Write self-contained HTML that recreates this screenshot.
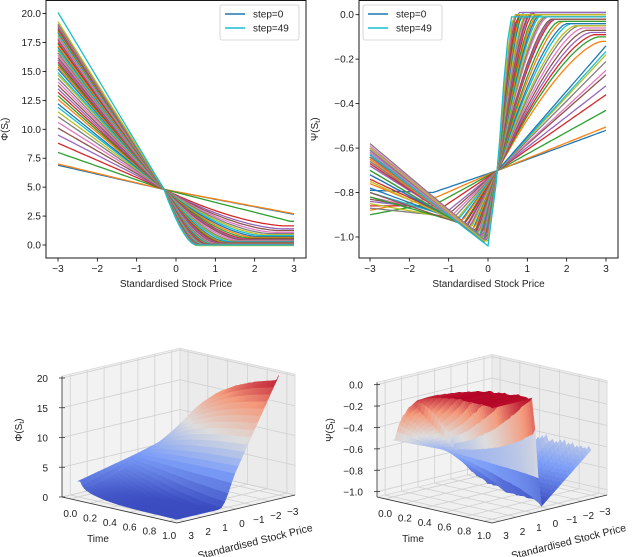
<!DOCTYPE html>
<html><head><meta charset="utf-8">
<style>
body{margin:0;background:#fff;}
svg{display:block;font-family:"Liberation Sans","DejaVu Sans",sans-serif;}
</style></head>
<body>
<svg id="fig" width="640" height="557" viewBox="0 0 640 557" xmlns="http://www.w3.org/2000/svg">
<rect width="640" height="557" fill="#fff"/>
<g id="g2d"></g>
<g id="g3d"></g>
</svg>
<script>
// ---------- data ----------
const xTicks = [-3,-2,-1,0,1,2,3];
const phiYTicks = [0,2.5,5,7.5,10,12.5,15,17.5,20];
const psiYTicks = [0,-0.2,-0.4,-0.6,-0.8,-1.0];
const phiLeft = [6.9,7.0,8.0,8.8,9.5,10.1,10.6,11.1,11.5,11.9,12.2,12.6,12.9,13.2,13.5,13.8,14.1,14.4,14.7,14.9,15.2,15.4,15.6,15.8,16.0,16.2,16.4,16.6,16.8,16.9,17.1,17.2,17.4,17.5,17.7,17.8,17.9,18.1,18.2,18.3,18.4,18.5,18.6,18.7,18.8,18.9,19.0,19.1,19.3,20.1];
const phiRight = [2.65,2.7,2.05,1.65,1.4,1.25,1.1,0.98,0.88,0.8,0.72,0.65,0.58,0.52,0.47,0.42,0.38,0.34,0.3,0.27,0.24,0.21,0.19,0.17,0.15,0.13,0.12,0.1,0.09,0.08,0.07,0.06,0.05,0.05,0.04,0.04,0.03,0.03,0.02,0.02,0.02,0.01,0.01,0.01,0,0,0,0,-0.05,0];
const phiKink = [3,3,2.9,2.8,2.7,2.6,2.5,2.4,2.3,2.2,2.1,2.0,1.9,1.8,1.75,1.7,1.6,1.5,1.45,1.4,1.3,1.25,1.2,1.15,1.1,1.05,1.0,0.95,0.9,0.88,0.85,0.82,0.8,0.78,0.75,0.72,0.7,0.68,0.66,0.64,0.62,0.6,0.58,0.57,0.56,0.55,0.54,0.53,0.52,0.5];
const phiCross = [-0.3, 4.8];
const psiLeft = [-0.79,-0.88,-0.90,-0.86,-0.84,-0.83,-0.82,-0.87,-0.85,-0.80,-0.78,-0.76,-0.82,-0.74,-0.72,-0.80,-0.70,-0.68,-0.75,-0.66,-0.72,-0.64,-0.70,-0.62,-0.68,-0.60,-0.66,-0.58,-0.64,-0.63,-0.61,-0.65,-0.62,-0.67,-0.60,-0.64,-0.59,-0.66,-0.61,-0.63,-0.60,-0.65,-0.62,-0.64,-0.61,-0.63,-0.62,-0.64,-0.60,-0.63];
const psiMinX = [-1.4,-1.3,-1.2,-1.1,-1.0,-0.95,-0.9,-0.85,-0.8,-0.75,-0.7,-0.66,-0.62,-0.58,-0.55,-0.52,-0.49,-0.46,-0.43,-0.4,-0.38,-0.36,-0.34,-0.32,-0.3,-0.28,-0.26,-0.24,-0.22,-0.2,-0.19,-0.18,-0.17,-0.16,-0.15,-0.14,-0.13,-0.12,-0.11,-0.1,-0.09,-0.08,-0.07,-0.06,-0.05,-0.04,-0.03,-0.02,-0.01,0.0];
const psiMinY = [-0.80,-0.82,-0.84,-0.86,-0.88,-0.89,-0.90,-0.91,-0.92,-0.92,-0.93,-0.93,-0.94,-0.94,-0.95,-0.95,-0.96,-0.96,-0.96,-0.97,-0.97,-0.97,-0.98,-0.98,-0.98,-0.98,-0.99,-0.99,-0.99,-0.99,-1.0,-1.0,-1.0,-1.0,-1.0,-1.01,-1.01,-1.01,-1.01,-1.01,-1.02,-1.02,-1.02,-1.02,-1.02,-1.03,-1.03,-1.03,-1.03,-1.04];
const psiSatX = [3,3,3,3,3,3,3,3,3,3,3,2.9,2.8,2.7,2.6,2.5,2.4,2.3,2.2,2.1,2.0,1.9,1.8,1.7,1.65,1.6,1.5,1.45,1.4,1.35,1.3,1.25,1.2,1.15,1.1,1.05,1.0,0.97,0.94,0.9,0.87,0.84,0.81,0.78,0.75,0.72,0.7,0.68,0.66,0.6];
const psiRight = [-0.52,-0.505,-0.43,-0.36,-0.32,-0.27,-0.25,-0.21,-0.18,-0.165,-0.14,-0.12,-0.10,-0.09,-0.08,-0.07,-0.06,-0.05,-0.05,-0.04,-0.04,-0.03,-0.03,-0.02,-0.02,-0.02,-0.01,-0.01,-0.01,0,0,0,0,0.01,0.01,0,0,0,0,0.01,0,0,0,0,0.01,0,0,0,0,-0.01];
const psiCross = [0.25, -0.7];
const timeTicks = [0,0.2,0.4,0.6,0.8,1.0];
const phiZTicks = [0,5,10,15,20];
const psiZTicks = [0,-0.2,-0.4,-0.6,-0.8,-1.0];

const NS = "http://www.w3.org/2000/svg";
const tab10 = ["#1f77b4","#ff7f0e","#2ca02c","#d62728","#9467bd","#8c564b","#e377c2","#7f7f7f","#bcbd22","#17becf"];
function mk(tag, attrs, parent){const e=document.createElementNS(NS,tag);for(const k in attrs)e.setAttribute(k,attrs[k]);parent.appendChild(e);return e;}
function txt(parent,x,y,s,extra){const e=mk('text',Object.assign({x:x,y:y,'font-size':10,fill:'#222'},extra||{}),parent);e.textContent=s;return e;}
function fmt(v,d){let s=v.toFixed(d);if(v<0||s.startsWith('-'))s='\u2212'+s.replace('-','');if(/^\u22120(\.0+)?$/.test(s))s=s.slice(1);return s;}

function phiAt(k,x){
  const L=phiLeft[k],R=phiRight[k],K=phiKink[k],cx=phiCross[0],cy=phiCross[1];
  if(x<=cx) return L+(cy-L)*(x+3)/(cx+3);
  const u=Math.min(1,(x-cx)/(K-cx)); const p=K>=2.9?1:1.6;
  return R+(cy-R)*Math.pow(1-u,p);
}
function psiAt(k,x){
  const L=psiLeft[k],mx=psiMinX[k],my=psiMinY[k],cx=psiCross[0],cy=psiCross[1],S=psiSatX[k],R=psiRight[k];
  if(x<=mx) return L+(my-L)*(x+3)/(mx+3);
  if(x<=cx) return my+(cy-my)*(x-mx)/(cx-mx);
  const u=Math.min(1,(x-cx)/(S-cx)); const p=S>=2.95?1:1.5;
  return R+(cy-R)*Math.pow(1-u,p);
}
const xs=[];for(let i=0;i<=60;i++)xs.push(-3+i*0.1);

// ---------- 2D charts ----------
const g2=document.getElementById('g2d');
function chart2d(cfg){
  const g=mk('g',{},g2);
  
  
  const sx=x=>cfg.x0+(x+3)/6*cfg.xw;
  const sy=y=>cfg.yRef+(cfg.yRefV-y)*cfg.ypu;
  const clip='clip'+cfg.name;
  const cp=mk('clipPath',{id:clip},g);mk('rect',{x:cfg.L,y:cfg.T,width:cfg.R-cfg.L,height:cfg.B-cfg.T},cp);
  const lines=mk('g',{'clip-path':'url(#'+clip+')'},g);
  for(let k=0;k<50;k++){
    const d=xs.map((x,i)=>(i?'L':'M')+sx(x).toFixed(1)+' '+sy(cfg.f(k,x)).toFixed(1)).join('');
    const p=mk('path',{d:d,fill:'none',stroke:tab10[k%10],'stroke-width':1.3},lines);
    
    
  }
  const fr=mk('rect',{x:cfg.L,y:cfg.T,width:cfg.R-cfg.L,height:cfg.B-cfg.T,fill:'none',stroke:'#000','stroke-width':0.9},g);
  
  const xa=mk('g',{},g);
  xTicks.forEach(v=>{mk('line',{x1:sx(v),x2:sx(v),y1:cfg.B,y2:cfg.B+3.5,stroke:'#000','stroke-width':0.8},xa);
    txt(xa,sx(v),cfg.B+14,fmt(v,0),{'text-anchor':'middle'});});
  const xt=txt(g,(cfg.L+cfg.R)/2,cfg.B+29,'Standardised Stock Price',{'text-anchor':'middle'});
  
  const ya=mk('g',{},g);
  cfg.yt.forEach(v=>{mk('line',{x1:cfg.L-3.5,x2:cfg.L,y1:sy(v),y2:sy(v),stroke:'#000','stroke-width':0.8},ya);
    txt(ya,cfg.L-5,sy(v)+3.5,fmt(v,cfg.dec),{'text-anchor':'end'});});
  const yl=txt(g,0,0,'',{'text-anchor':'middle',transform:'translate('+cfg.ylx+','+((cfg.T+cfg.B)/2)+') rotate(-90)'});
  yl.innerHTML=cfg.ylab+'(S<tspan font-size="7" dy="2">t</tspan><tspan dy="-2">)</tspan>';
  
  const lg=mk('g',{},g);
  mk('rect',{x:cfg.lgx,y:5,width:79,height:35,rx:2,fill:'#fff',stroke:'#ccc','stroke-width':0.8},lg);
  [['step=0',tab10[0]],['step=49',tab10[9]]].forEach((e,i)=>{
    const en=mk('g',{},lg);
    mk('line',{x1:cfg.lgx+5,x2:cfg.lgx+25,y1:14+i*14,y2:14+i*14,stroke:e[1],'stroke-width':1.5},en);
    txt(en,cfg.lgx+33,17.5+i*14,e[0]);
  });
}
chart2d({name:'phi-chart',L:46,R:306,T:0.5,B:258,x0:58,xw:236,yRef:245,yRefV:0,ypu:11.57,f:phiAt,yt:phiYTicks,dec:1,ylab:'\u03A6',ylx:8,lgx:220});
chart2d({name:'psi-chart',L:359,R:618,T:0.5,B:258,x0:370,xw:236,yRef:14.7,yRefV:0,ypu:222.3,f:psiAt,yt:psiYTicks,dec:1,ylab:'\u03A8',ylx:318,lgx:363});

// ---------- 3D charts ----------
const g3=document.getElementById('g3d');
const cw=[[0,[59,76,192]],[0.25,[124,158,248]],[0.5,[221,221,221]],[0.75,[244,154,123]],[1,[180,4,38]]];
function cmap(v){v=Math.max(0,Math.min(1,v));for(let i=0;i<cw.length-1;i++){if(v<=cw[i+1][0]){const t=(v-cw[i][0])/(cw[i+1][0]-cw[i][0]);const a=cw[i][1],b=cw[i+1][1];return 'rgb('+a.map((c,j)=>Math.round(c+(b[j]-c)*t)).join(',')+')';}}}
function chart3d(cfg){
  const g=mk('g',{},g3);
  
  
  const P=(t,u,z)=>[cfg.x0+t*cfg.T[0]+u*cfg.U[0], cfg.y0+t*cfg.T[1]+u*cfg.U[1]-(z-cfg.zmin)*cfg.k];
  const ins=0.07;
  const Q=(t,u,z)=>P(ins+(1-2*ins)*t, ins+(1-2*ins)*u, z);
  const pts=a=>a.map(p=>p[0].toFixed(1)+','+p[1].toFixed(1)).join(' ');
  const pn=mk('g',{},g);
  mk('polygon',{points:pts([P(0,0,cfg.zmin),P(0,1,cfg.zmin),P(1,1,cfg.zmin),P(1,0,cfg.zmin)]),fill:'#f0f0f0',stroke:'#ddd'},pn);
  mk('polygon',{points:pts([P(0,0,cfg.zmin),P(0,1,cfg.zmin),P(0,1,cfg.zmax),P(0,0,cfg.zmax)]),fill:'#f2f2f2',stroke:'#ddd'},pn);
  mk('polygon',{points:pts([P(0,1,cfg.zmin),P(1,1,cfg.zmin),P(1,1,cfg.zmax),P(0,1,cfg.zmax)]),fill:'#ebebeb',stroke:'#ddd'},pn);
  const gl=(a,b)=>mk('line',{x1:a[0],y1:a[1],x2:b[0],y2:b[1],stroke:'#d0d0d0','stroke-width':0.8},pn);
  cfg.zt.forEach(z=>{gl(P(0,0,z),P(0,1,z));gl(P(0,1,z),P(1,1,z));});
  timeTicks.forEach(t=>{const tt=ins+(1-2*ins)*t;gl(P(tt,0,cfg.zmin),P(tt,1,cfg.zmin));gl(P(tt,1,cfg.zmin),P(tt,1,cfg.zmax));});
  xTicks.forEach(s=>{const u=ins+(1-2*ins)*(3-s)/6;gl(P(0,u,cfg.zmin),P(1,u,cfg.zmin));gl(P(0,u,cfg.zmin),P(0,u,cfg.zmax));});
  const sf=mk('g',{},g);
  const NU=30, cells=[];
  for(let k=0;k<49;k++)for(let j=0;j<NU;j++){
    const t0=k/49,t1=(k+1)/49,u0=j/NU,u1=(j+1)/NU;
    const s0=3-6*u0,s1=3-6*u1;
    const z00=cfg.f(k,s0),z01=cfg.f(k,s1),z10=cfg.f(k+1,s0),z11=cfg.f(k+1,s1);
    cells.push({d:t0+(1-u0),poly:[Q(t0,u0,z00),Q(t0,u1,z01),Q(t1,u1,z11),Q(t1,u0,z10)],z:(z00+z01+z10+z11)/4});
  }
  cells.sort((a,b)=>a.d-b.d);
  cells.forEach(c=>{const col=cmap((c.z-cfg.cmin)/(cfg.cmax-cfg.cmin));mk('polygon',{points:pts(c.poly),fill:col,stroke:col,'stroke-width':0.6},sf);});
  const ax=mk('g',{},g);
  const a0=P(0,0,cfg.zmin),a1=P(1,0,cfg.zmin);
  mk('line',{x1:a0[0],y1:a0[1],x2:a1[0],y2:a1[1],stroke:'#333','stroke-width':0.8},ax);
  timeTicks.forEach(t=>{const p=Q(t,0,cfg.zmin);txt(ax,p[0]-8,p[1]+20,t.toFixed(1),{'text-anchor':'middle'});});
  txt(ax,cfg.x0+36,cfg.y0+45,'Time',{'text-anchor':'middle'});
  const sa=mk('g',{},g);
  const b1=P(1,1,cfg.zmin);
  mk('line',{x1:a1[0],y1:a1[1],x2:b1[0],y2:b1[1],stroke:'#333','stroke-width':0.8},sa);
  xTicks.forEach(s=>{const p=Q(1,(3-s)/6,cfg.zmin);txt(sa,p[0]+14,p[1]+20,fmt(s,0),{'text-anchor':'middle'});});
  const mid=P(1,0.5,cfg.zmin);
  txt(sa,0,0,'Standardised Stock Price',{'text-anchor':'middle','font-size':10.5,transform:'translate('+(mid[0]+20)+','+(mid[1]+36)+') rotate(-14)'});
  const za=mk('g',{},g);
  const c0=P(0,0,cfg.zmin),c1=P(0,0,cfg.zmax);
  mk('line',{x1:c0[0],y1:c0[1],x2:c1[0],y2:c1[1],stroke:'#333','stroke-width':0.8},za);
  cfg.zt.forEach(z=>{const p=P(0,0,z);mk('line',{x1:p[0]-3,x2:p[0]+3,y1:p[1],y2:p[1],stroke:'#333','stroke-width':0.8},za);txt(za,p[0]-14,p[1]+4,fmt(z,cfg.zd),{'text-anchor':'end'});});
  const zl=txt(za,0,0,'',{'text-anchor':'middle',transform:'translate('+cfg.zlx+',430) rotate(-90)'});
  zl.innerHTML=cfg.zlab+'(S<tspan font-size="7" dy="2">t</tspan><tspan dy="-2">)</tspan>';
}
chart3d({name:'phi-surface-chart',x0:62,y0:497,T:[115,26],U:[118,-28],zmin:0,zmax:20.3,k:5.95,f:phiAt,zt:phiZTicks,zd:0,cmin:0,cmax:20.1,zlab:'\u03A6',zlx:22});
chart3d({name:'psi-surface-chart',x0:377,y0:497,T:[115,26],U:[115,-28],zmin:-1.05,zmax:0.02,k:107,f:psiAt,zt:psiZTicks,zd:1,cmin:-1.04,cmax:0.01,zlab:'\u03A8',zlx:333});
</script>
</body></html>
